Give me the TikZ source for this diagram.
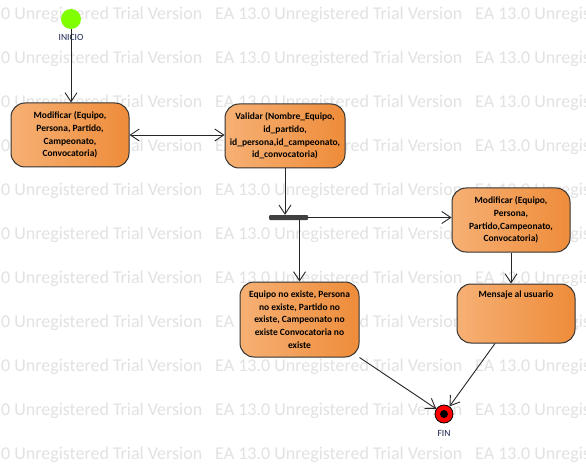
\documentclass[tikz,border=0pt]{standalone}
\usepackage{fontspec}
\setmainfont{Carlito}
\usetikzlibrary{arrows.meta}

\definecolor{boxlight}{RGB}{246,176,116}
\definecolor{boxdark}{RGB}{238,140,58}
\definecolor{wmgray}{RGB}{226,226,226}
\definecolor{labelnavy}{RGB}{25,35,80}
\definecolor{startgreen}{RGB}{128,255,0}

\begin{document}
\begin{tikzpicture}[x=1pt,y=-1pt,
  actbox/.style={draw=black!80,line width=1pt,rounded corners=14pt,
    left color=boxlight,right color=boxdark,align=center,
    font=\fontsize{9.5}{12.7}\selectfont\bfseries,inner sep=0pt,
    minimum width=118pt,minimum height=64pt},
  flow/.style={draw=black!85,line width=0.9pt,-{Straight Barb[length=9pt,width=12pt]}},
  wmtext/.style={anchor=west,inner sep=0pt,text=wmgray,font=\fontsize{18}{20}\selectfont},
  tag/.style={inner sep=0pt,text=labelnavy,font=\fontsize{9.5}{11}\selectfont}]
\useasboundingbox (0,0) rectangle (586,473);
\fill[white] (0,0) rectangle (586,473);
\clip (0,0) rectangle (586,473);
% watermark
\foreach \yy in {15,59,...,455}
  \foreach \xx in {-45,215,475}
    {\node[wmtext] (wm-\xx-\yy) at (\xx,\yy) {EA 13.0 Unregistered Trial Version};}
% start
\node[circle,fill=startgreen,minimum size=20pt,inner sep=0pt] (inicio) at (71,19) {};
\node[tag] (inicioLabel) at (71,37) {INICIO};
% activities
\node[actbox] (modA) at (70,135) {Modificar (Equipo,\\Persona, Partido,\\Campeonato,\\Convocatoria)};
\node[actbox,minimum width=120pt] (validar) at (285,136) {Validar (Nombre\_Equipo,\\id\_partido,\\id\_persona,id\_campeonato,\\id\_convocatoria)};
\node[fill=black!75,minimum width=39pt,minimum height=5pt,inner sep=0pt,rounded corners=1pt] (fork) at (288.5,217.5) {};
\node[actbox] (modC) at (511,220) {Modificar (Equipo,\\Persona,\\Partido,Campeonato,\\Convocatoria)};
\node[actbox,minimum width=119pt,minimum height=75pt] (noexiste) at (299.5,319.5) {Equipo no existe, Persona\\no existe, Partido no\\existe, Campeonato no\\existe Convocatoria no\\existe};
\node[actbox,minimum height=59pt,text height=13pt,text depth=46pt] (mensaje) at (516,313.5) {Mensaje al usuario};
% end
\node[circle,draw=black,line width=0.8pt,fill=red,minimum size=18pt,inner sep=0pt] (fin) at (444,414) {};
\node[circle,fill=black,minimum size=8pt,inner sep=0pt] (finDot) at (fin) {};
\node[tag] (finLabel) at (444,433) {FIN};
% flows
\draw[flow] (inicio.south) -- (inicio.south |- modA.north);
\draw[flow,{Straight Barb[length=9pt,width=12pt]}-{Straight Barb[length=9pt,width=12pt]}] (modA.east) -- (modA.east -| validar.west);
\draw[flow] (validar.south) -- (validar.south |- fork.north);
\draw[flow] (fork.east) -- (fork.east -| modC.west);
\draw[flow] (noexiste.north |- fork.south) -- (noexiste.north);
\draw[flow] (modC.south) -- (modC.south |- mensaje.north);
\draw[flow] (noexiste.south east) -- (fin);
\draw[flow] ([xshift=-21pt]mensaje.south) -- (fin);
\end{tikzpicture}
\end{document}
